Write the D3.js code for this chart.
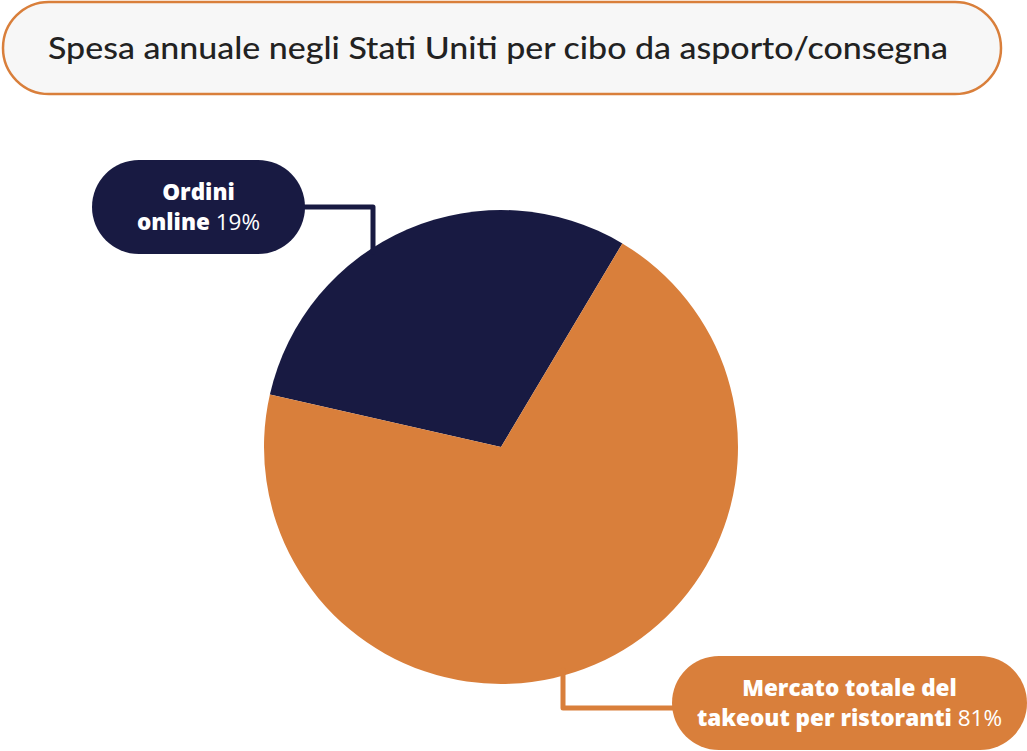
<!DOCTYPE html>
<html>
<head>
<meta charset="utf-8">
<script src="https://cdn.jsdelivr.net/npm/d3@7"></script>
<style>
  html, body { margin: 0; padding: 0; background: #fff; }
  svg { display: block; }
</style>
</head>
<body>
<div id="chart"></div>
<script>
  // data
  const title = "Spesa annuale negli Stati Uniti per cibo da asporto/consegna";
  const categories = ["Ordini online", "Mercato totale del takeout per ristoranti"];
  const labelPercent = [19, 81];
  // slice shares as drawn in the picture (they do not follow the labels)
  const drawnShare = [30, 70];
  const labelBold = [["Ordini", "online"], ["Mercato totale del", "takeout per ristoranti"]];

  const W = 1027, H = 751;
  const NAVY = "#181a42", ORANGE = "#d97f3b";
  const colors = d3.scaleOrdinal().domain(categories).range([NAVY, ORANGE]);

  const svg = d3.select("#chart").append("svg")
    .attr("width", W)
    .attr("height", H);

  // title pill
  const tg = svg.append("g");
  tg.append("rect")
    .attr("x", 3).attr("y", 2)
    .attr("width", 998).attr("height", 92)
    .attr("rx", 46)
    .attr("fill", "#f7f7f7")
    .attr("stroke", ORANGE)
    .attr("stroke-width", 2.5);
  tg.append("text")
    .attr("x", 48).attr("y", 59)
    .attr("font-family", "Lato, sans-serif")
    .attr("font-size", 31)
    .attr("font-weight", 500)
    .attr("fill", "#222")
    .attr("textLength", 900)
    .attr("lengthAdjust", "spacingAndGlyphs")
    .text(title);

  // pie
  const cx = 501, cy = 447, r = 237;
  const pie = d3.pie().sort(null)
    .startAngle(-77.2 * Math.PI / 180)
    .endAngle((360 - 77.2) * Math.PI / 180);
  const arcs = pie(drawnShare);
  const arc = d3.arc().innerRadius(0).outerRadius(r);

  const pg = svg.append("g").attr("transform", `translate(${cx},${cy})`);
  pg.selectAll("path")
    .data(arcs)
    .join("path")
    .attr("d", arc)
    .attr("fill", (d, i) => colors(categories[i]));

  // labels: pill box + leader
  const labels = [
    { box: [92, 160, 213, 94], path: [[300, 207], [373, 207], [373, 252]] },
    { box: [672, 656, 355, 94], path: [[563, 670], [563, 708], [680, 708]] }
  ];

  const lg = svg.append("g");
  labels.forEach((l, i) => {
    const c = colors(categories[i]);
    lg.append("path")
      .attr("d", d3.line()(l.path))
      .attr("fill", "none")
      .attr("stroke", c)
      .attr("stroke-width", 5)
      .attr("stroke-linejoin", "round")
      .attr("stroke-linecap", "round");
    const [x, y, w, h] = l.box;
    lg.append("rect")
      .attr("x", x).attr("y", y)
      .attr("width", w).attr("height", h)
      .attr("rx", h / 2)
      .attr("fill", c);
    const t = lg.append("text")
      .attr("x", x + w / 2)
      .attr("text-anchor", "middle")
      .attr("font-family", "'Open Sans', sans-serif")
      .attr("font-size", 22.5)
      .attr("fill", "#fff");
    t.append("tspan")
      .attr("x", x + w / 2).attr("y", y + 40)
      .attr("font-weight", 800)
      .text(labelBold[i][0]);
    const t2 = t.append("tspan")
      .attr("x", x + w / 2).attr("y", y + 70);
    t2.append("tspan").attr("font-weight", 800).text(labelBold[i][1]);
    t2.append("tspan").attr("font-weight", 400).text(" " + labelPercent[i] + "%");
  });
</script>
</body>
</html>
